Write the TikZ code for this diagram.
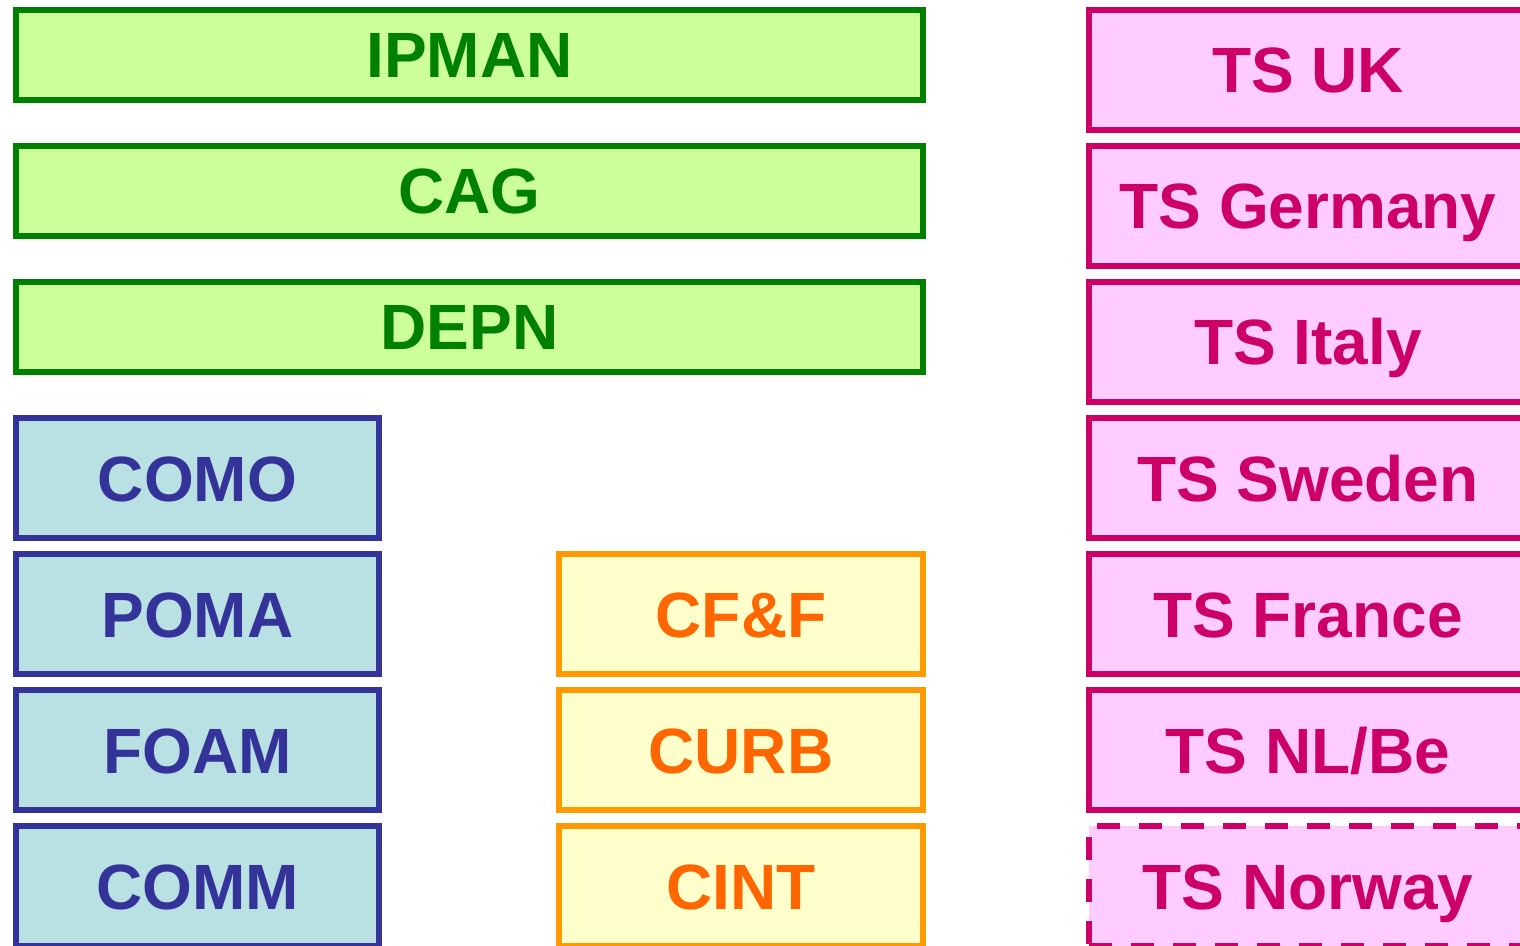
\documentclass[tikz,border=0pt]{standalone}
\usepackage{fontspec}
\setmainfont{Liberation Sans}
\definecolor{gline}{HTML}{008000}
\definecolor{gfill}{HTML}{CCFF99}
\definecolor{bline}{HTML}{333399}
\definecolor{bfill}{HTML}{B9E0E3}
\definecolor{oline}{HTML}{FF9900}
\definecolor{ofill}{HTML}{FFFFCC}
\definecolor{otext}{HTML}{FF6600}
\definecolor{pline}{HTML}{CC0066}
\definecolor{pfill}{HTML}{FFCCFF}
\begin{document}
\begin{tikzpicture}[x=0.5pt,y=-0.5pt,
  box/.style={draw, rectangle, line width=3pt, inner sep=0pt, outer sep=0pt,
    font=\fontsize{32}{38}\selectfont\bfseries, text height=23pt, text depth=0pt},
  gbox/.style={box, draw=gline, fill=gfill, text=gline, minimum width=453.5pt, minimum height=45.3pt},
  bbox/.style={box, draw=bline, fill=bfill, text=bline, minimum width=181.5pt, minimum height=60.3pt},
  obox/.style={box, draw=oline, fill=ofill, text=otext, minimum width=182pt, minimum height=60.3pt},
  pbox/.style={box, draw=pline, fill=pfill, text=pline, minimum width=219pt, minimum height=60.3pt}]
\useasboundingbox (0,0) rectangle (1520,946);
\clip (0,0) rectangle (1520,946);
\fill[white] (0,0) rectangle (1520,946);
% green
\node[gbox] (ipman) at (469.5,55) {IPMAN};
\node[gbox] (cag) at (469.5,191) {CAG};
\node[gbox] (depn) at (469.5,327) {DEPN};
% blue
\node[bbox] (como) at (197.5,478) {COMO};
\node[bbox] (poma) at (197.5,614) {POMA};
\node[bbox] (foam) at (197.5,750) {FOAM};
\node[bbox] (comm) at (197.5,886) {COMM};
% orange
\node[obox] (cff) at (741,614) {CF\&F};
\node[obox] (curb) at (741,750) {CURB};
\node[obox] (cint) at (741,886) {CINT};
% pink
\node[pbox] (tsuk) at (1308,70) {TS UK};
\node[pbox] (tsde) at (1308,206) {TS Germany};
\node[pbox] (tsit) at (1308,342) {TS Italy};
\node[pbox] (tsse) at (1308,478) {TS Sweden};
\node[pbox] (tsfr) at (1308,614) {TS France};
\node[pbox] (tsnl) at (1308,750) {TS NL/Be};
\node[pbox, dash pattern=on 11.5pt off 9.5pt] (tsno) at (1308,886) {TS Norway};
\end{tikzpicture}
\end{document}
